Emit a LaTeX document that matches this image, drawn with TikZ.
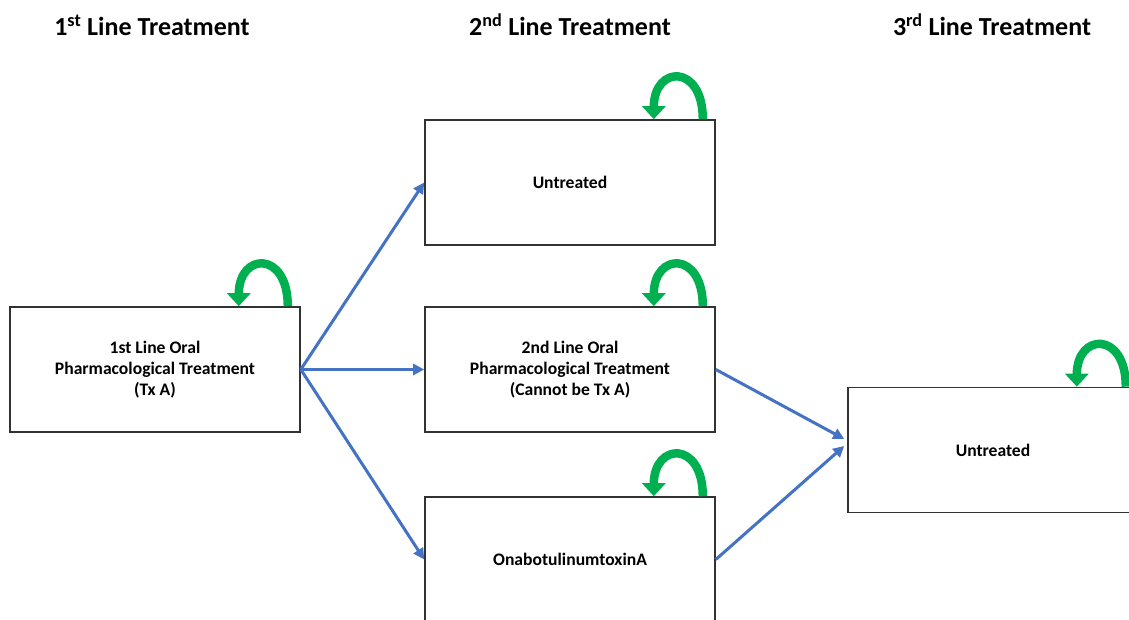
\documentclass[tikz,border=0pt]{standalone}
\usepackage{fontspec}
\setmainfont{Carlito}
\usetikzlibrary{arrows.meta,calc}
\definecolor{flowblue}{RGB}{68,114,196}
\definecolor{loopgreen}{RGB}{0,176,80}
\definecolor{boxline}{RGB}{50,50,50}
\tikzset{
  statebox/.style={draw=boxline,line width=1.6pt,fill=white,minimum width=290pt,minimum height=125pt,align=center,font=\fontsize{17.6}{20.8}\selectfont\bfseries,inner sep=0pt},
  header/.style={font=\fontsize{26}{30}\selectfont\bfseries,inner sep=0pt},
  flow/.style={draw=flowblue,line width=3pt,-{Triangle[width=11pt,length=11pt]}},
  selfloop/.style={draw=loopgreen,line width=8.5pt,-{Triangle[width=23pt,length=13pt]}}
}
\newcommand\drawselfloop[1]{%
  \draw[selfloop] ($(#1.north east)+(-13,0)$) .. controls +(0,-56) and +(0,-54) .. ($(#1.north east)+(-62,0)$);}
\begin{document}
\begin{tikzpicture}[x=1pt,y=-1pt]
\useasboundingbox (0,0) rectangle (1129,620);
\clip (0,0) rectangle (1129,620);
\node[header] (h1) at (152,25) {1\textsuperscript{st} Line Treatment};
\node[header] (h2) at (570,25) {2\textsuperscript{nd} Line Treatment};
\node[header] (h3) at (992,25) {3\textsuperscript{rd} Line Treatment};
\node[statebox] (A) at (155,369.5) {1st Line Oral\\Pharmacological Treatment\\(Tx A)};
\node[statebox] (B) at (570,182.5) {Untreated};
\node[statebox] (C) at (570,369.5) {2nd Line Oral\\Pharmacological Treatment\\(Cannot be Tx A)};
\node[statebox] (D) at (570,559.5) {OnabotulinumtoxinA};
\node[statebox] (E) at (993,450) {Untreated};
\draw[flow] (A.east) -- (B.west);
\draw[flow] (A.east) -- (C.west);
\draw[flow] (A.east) -- (D.west);
\draw[flow] (C.east) -- ($(E.west)+(-3,-11)$);
\draw[flow] (D.east) -- ($(E.west)+(-3,-4)$);
\drawselfloop{A}
\drawselfloop{B}
\drawselfloop{C}
\drawselfloop{D}
\drawselfloop{E}
\end{tikzpicture}
\end{document}
